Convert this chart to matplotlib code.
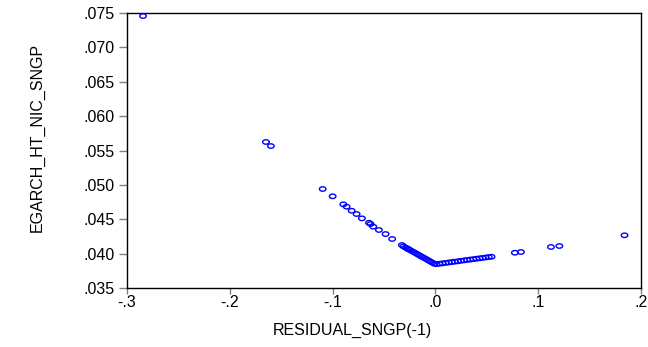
import matplotlib
matplotlib.use("Agg")
import matplotlib.pyplot as plt
from matplotlib.path import Path
from matplotlib.transforms import Affine2D
import matplotlib.font_manager as fm

resid = [-0.2844, -0.1648, -0.1600, -0.1096, -0.0999, -0.0895, -0.0863, -0.0814,
         -0.0766, -0.0714, -0.0646, -0.0630, -0.0604, -0.0549, -0.0484, -0.0420,
         -0.0325, -0.0264,
         -0.031, -0.029, -0.027, -0.025, -0.023, -0.021, -0.019, -0.017, -0.015,
         -0.013, -0.011, -0.009, -0.007, -0.005, -0.003, -0.001,
         0.001, 0.004, 0.007, 0.010, 0.013, 0.016, 0.019, 0.022, 0.025, 0.028,
         0.031, 0.034, 0.037, 0.040, 0.043, 0.046, 0.049, 0.052, 0.0547,
         0.0774, 0.0833, 0.1125, 0.1207, 0.1841]
nic = [0.07456, 0.05624, 0.05565, 0.04940, 0.04834, 0.04717, 0.04683, 0.04624,
       0.04576, 0.04513, 0.04449, 0.04431, 0.04392, 0.04344, 0.04285, 0.04213,
       0.04125, 0.04067,
       0.04106, 0.04089, 0.04072, 0.04055, 0.04038, 0.04022, 0.04005, 0.03988, 0.03971,
       0.03954, 0.03938, 0.03921, 0.03904, 0.03887, 0.03870, 0.03853,
       0.03847, 0.03853, 0.03859, 0.03865, 0.03871, 0.03877, 0.03883, 0.03889, 0.03896, 0.03902,
       0.03908, 0.03914, 0.03920, 0.03926, 0.03932, 0.03938, 0.03944, 0.03950, 0.03955,
       0.04013, 0.04024, 0.04097, 0.04111, 0.04267]

xticks = [-0.3, -0.2, -0.1, 0.0, 0.1, 0.2]
xtick_labels = ["-.3", "-.2", "-.1", ".0", ".1", ".2"]
yticks = [0.035, 0.040, 0.045, 0.050, 0.055, 0.060, 0.065, 0.070, 0.075]
ytick_labels = [".035", ".040", ".045", ".050", ".055", ".060", ".065", ".070", ".075"]
x_label = "RESIDUAL_SNGP(-1)"
y_label = "EGARCH_HT_NIC_SNGP"

names = {f.name for f in fm.fontManager.ttflist}
narrow = "Liberation Sans Narrow" if "Liberation Sans Narrow" in names else "Liberation Sans"

fig = plt.figure(figsize=(6.48, 3.47), dpi=100)
ax = fig.add_axes([0.196, 0.170, 0.793, 0.7925])

circ = Path.unit_circle()
ell = circ.transformed(Affine2D().scale(1.0, 0.68))
ax.scatter(resid, nic, marker=ell, s=22, facecolors="none", edgecolors="#0000ff",
           linewidths=1.0, zorder=3)

ax.set_xlim(-0.3, 0.2)
ax.set_ylim(0.035, 0.075)
ax.set_xticks(xticks)
ax.set_xticklabels(xtick_labels, family="Liberation Sans", fontsize=11.5)
ax.set_yticks(yticks)
ax.set_yticklabels(ytick_labels, family="Liberation Sans", fontsize=11.5)
ax.tick_params(axis="y", direction="out", length=6, width=1, color="#808080", pad=3)
ax.tick_params(axis="x", direction="out", length=4, width=1, color="#808080", pad=1)
for s in ax.spines.values():
    s.set_linewidth(1.0)
    s.set_color("black")

ax.set_xlabel(x_label, family="Liberation Sans", fontsize=11.5)
ax.xaxis.set_label_coords(0.438, -0.128)
ax.set_ylabel(y_label, family=narrow, fontsize=11.5)
ax.yaxis.set_label_coords(-0.161, 0.549)

fig.savefig("out.png", dpi=100)
